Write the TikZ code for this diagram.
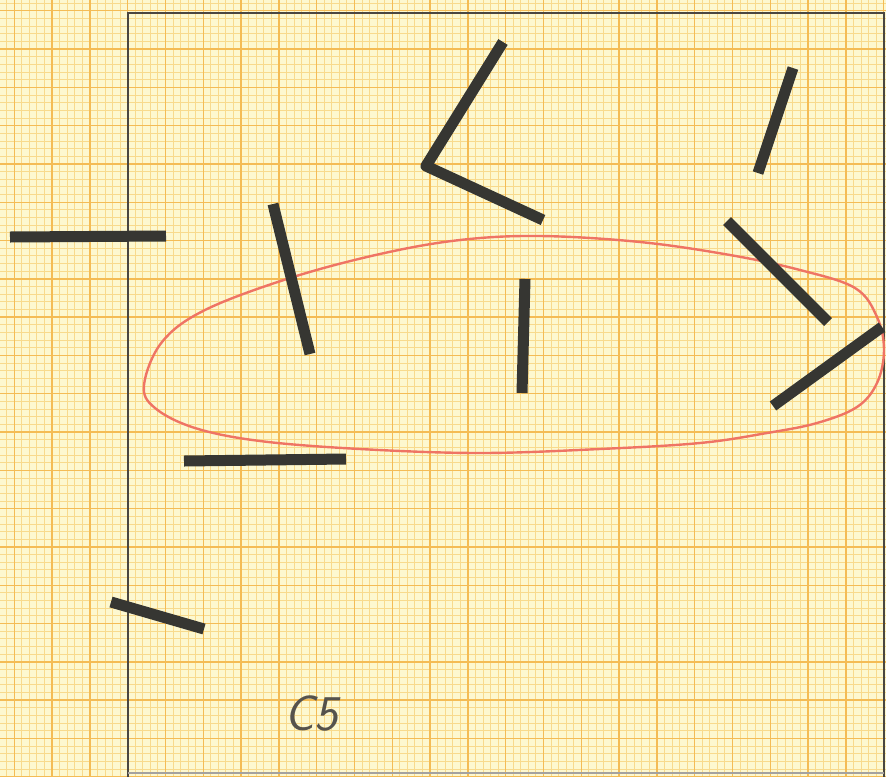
\documentclass[tikz,border=0pt]{standalone}
\usepackage{tikz}
\definecolor{paper}{HTML}{FDF8CF}
\definecolor{fineline}{HTML}{F8DA8C}
\definecolor{majorline}{HTML}{F4BC55}
\definecolor{stickcol}{HTML}{363632}
\definecolor{loopred}{HTML}{EF7464}
\definecolor{framecol}{HTML}{4A4640}
\definecolor{pencil}{HTML}{55524C}
\tikzset{
  stick/.style={line width=11pt, draw=stickcol, line cap=butt, line join=round},
  fine/.style={draw=fineline, line width=0.8pt},
  major/.style={draw=majorline, line width=1.4pt},
  loopline/.style={draw=loopred, line width=2.4pt}
}
\begin{document}
\begin{tikzpicture}[x=1pt,y=-1pt]
\useasboundingbox (0,0) rectangle (886,777);
\fill[paper] (0,0) rectangle (886,777);
% fine grid
\foreach \i in {-7,...,110} {
  \pgfmathsetmacro\xx{52+7.56*\i}
  \draw[fine] (\xx,0) -- (\xx,777);
}
\foreach \j in {-7,...,96} {
  \pgfmathsetmacro\yy{49+7.66*\j}
  \draw[fine] (0,\yy) -- (886,\yy);
}
% major grid
\foreach \i in {-2,...,22} {
  \pgfmathsetmacro\xx{52+37.8*\i}
  \draw[major] (\xx,0) -- (\xx,777);
}
\foreach \j in {-2,...,20} {
  \pgfmathsetmacro\yy{49+38.3*\j}
  \draw[major] (0,\yy) -- (886,\yy);
}
% frame
\draw[framecol, line width=2pt] (128,777) -- (128,13) -- (884,13) -- (884,777);
\draw[framecol!50, line width=1.2pt] (128,773) -- (884,773);
% red loop
\draw[loopline] plot[smooth cycle, tension=0.6] coordinates {
  (144,385) (162,342) (205,310) (290,278) (380,254) (460,240) (540,236)
  (640,242) (730,255) (800,270) (855,288) (877,317) (884,350) (877,383)
  (857,407) (817,423) (767,433) (700,443) (600,449) (480,453) (360,449)
  (260,441) (195,428) (155,408)};
% sticks
\draw[stick] (10,237) -- (166,236);
\draw[stick] (273,204) -- (310,354);
\draw[stick] (503,42) -- (426,166) -- (543,220);
\draw[stick] (793,68) -- (758,173);
\draw[stick] (525,279) -- (522,393);
\draw[stick] (727,221) -- (828,322);
\draw[stick] (882,327) -- (773,406);
\draw[stick] (184,461) -- (346,459);
\draw[stick] (111,602) -- (204,629);
% label
\node[text=pencil, font=\sffamily\itshape\fontsize{50}{50}\selectfont] (lbl) at (311,714) {C5};
\end{tikzpicture}
\end{document}
